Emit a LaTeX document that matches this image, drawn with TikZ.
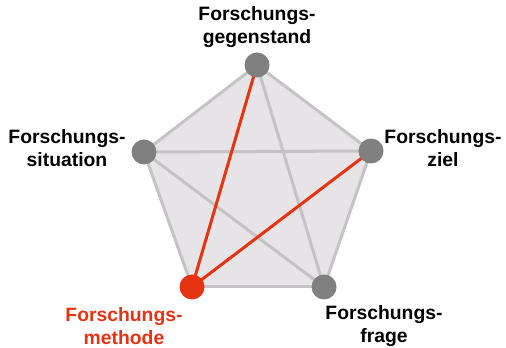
\documentclass[tikz,border=0pt]{standalone}
\usepackage{fontspec}
\setmainfont{Liberation Sans}
\usetikzlibrary{positioning,backgrounds}
\definecolor{edgegray}{HTML}{C4C4C4}
\definecolor{areagray}{HTML}{E6E4E6}
\definecolor{dotgray}{HTML}{808080}
\definecolor{methred}{HTML}{E63312}
\tikzset{
  cornerdot/.style={circle, fill=dotgray, minimum size=18.75pt, inner sep=0pt},
  cornerlabel/.style={align=center, inner sep=0pt,
    font=\fontsize{14.5}{17}\selectfont\bfseries},
  grayedge/.style={edgegray, line width=2.25pt},
  rededge/.style={methred, line width=2.25pt}
}

\begin{document}
\begin{tikzpicture}[x=0.75pt, y=-0.75pt]
    \useasboundingbox (0,0) rectangle (506,348);
    % corners of the pentagon
    \node[cornerdot] (gegenstand) at (257,65) {};
    \node[cornerdot] (situation) at (144,152) {};
    \node[cornerdot] (ziel) at (371,151) {};
    \node[cornerdot, fill=methred] (methode) at (192,287) {};
    \node[cornerdot] (frage) at (324,287) {};
    % labels
    \node[cornerlabel] (gegenstandtext) at (257,27) {Forschungs-\\gegenstand};
    \node[cornerlabel] (situationtext) at (67,148) {Forschungs-\\situation};
    \node[cornerlabel] (zieltext) at (443,148) {Forschungs-\\ziel};
    \node[cornerlabel, text=methred] (methodetext) at (124,326) {Forschungs-\\methode};
    \node[cornerlabel] (fragetext) at (384,326) {Forschungs-\\frage};
    \begin{scope}[on background layer]
      \fill[areagray] (gegenstand.center) -- (ziel.center) -- (frage.center)
        -- (methode.center) -- (situation.center) -- cycle;
      \foreach \a/\b in {gegenstand/ziel, ziel/frage, frage/methode,
          methode/situation, situation/gegenstand, gegenstand/frage,
          situation/ziel, situation/frage}
        \draw[grayedge] (\a.center) -- (\b.center);
      \draw[rededge] (methode.center) -- (gegenstand.center);
      \draw[rededge] (methode.center) -- (ziel.center);
    \end{scope}
  \end{tikzpicture}
\end{document}
